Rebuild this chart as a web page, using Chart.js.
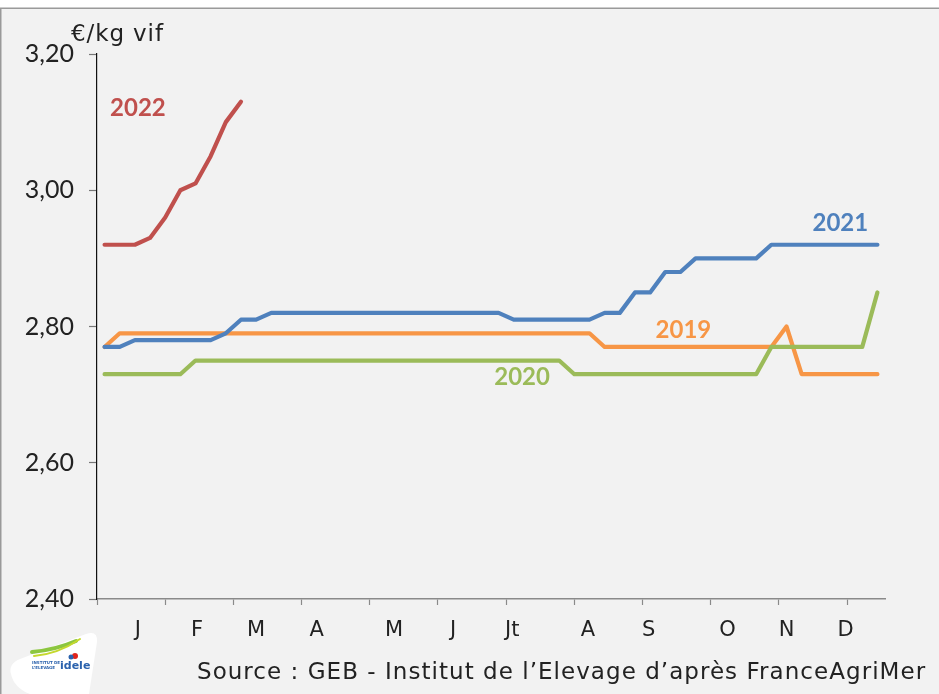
<!DOCTYPE html>
<html><head><meta charset="utf-8">
<script src="https://cdn.jsdelivr.net/npm/chart.js@4.4.1/dist/chart.umd.min.js"></script>
<style>html,body{margin:0;padding:0;background:#fff}#c{display:block}</style>
</head><body>
<canvas id="c" width="939" height="694"></canvas>
<script>
// prix hebdo (€/kg vif), 52 semaines
var s2019=[2.77,2.79,2.79,2.79,2.79,2.79,2.79,2.79,2.79,2.79,2.79,2.79,2.79,2.79,2.79,2.79,2.79,2.79,2.79,2.79,2.79,2.79,2.79,2.79,2.79,2.79,2.79,2.79,2.79,2.79,2.79,2.79,2.79,2.77,2.77,2.77,2.77,2.77,2.77,2.77,2.77,2.77,2.77,2.77,2.77,2.80,2.73,2.73,2.73,2.73,2.73,2.73];
var s2020=[2.73,2.73,2.73,2.73,2.73,2.73,2.75,2.75,2.75,2.75,2.75,2.75,2.75,2.75,2.75,2.75,2.75,2.75,2.75,2.75,2.75,2.75,2.75,2.75,2.75,2.75,2.75,2.75,2.75,2.75,2.75,2.73,2.73,2.73,2.73,2.73,2.73,2.73,2.73,2.73,2.73,2.73,2.73,2.73,2.77,2.77,2.77,2.77,2.77,2.77,2.77,2.85];
var s2021=[2.77,2.77,2.78,2.78,2.78,2.78,2.78,2.78,2.79,2.81,2.81,2.82,2.82,2.82,2.82,2.82,2.82,2.82,2.82,2.82,2.82,2.82,2.82,2.82,2.82,2.82,2.82,2.81,2.81,2.81,2.81,2.81,2.81,2.82,2.82,2.85,2.85,2.88,2.88,2.90,2.90,2.90,2.90,2.90,2.92,2.92,2.92,2.92,2.92,2.92,2.92,2.92];
var s2022=[2.92,2.92,2.92,2.93,2.96,3.00,3.01,3.05,3.10,3.13];

// axe des mois (en semaines)
var monthNames=['J','F','M','A','M','J','Jt','A','S','O','N','D'];
var monthPos=[2.7,6.6,10.5,14.5,19.6,23.5,27.4,32.4,36.4,41.6,45.5,49.4];
var tickMarks=[0,4.5,9,13.5,18,22.5,27,31.5,36,40.5,45,49.5];

var years=[
 {text:'2022',x:2.7,y:3.12,color:'#c0504d'},
 {text:'2021',x:49.05,y:2.951,color:'#4f81bd'},
 {text:'2019',x:38.7,y:2.795,color:'#f79646'},
 {text:'2020',x:28.05,y:2.726,color:'#9bbb59'}
];

function pts(arr){return arr.map(function(v,i){return {x:i+0.5,y:v};});}
function ds(label,arr,color){
 return {label:label,data:pts(arr),borderColor:color,backgroundColor:color,borderWidth:4.2,pointRadius:0,tension:0,
  borderCapStyle:'round',borderJoinStyle:'round',fill:false};
}

// texte étiré à une largeur donnée (police d'origine plus large)
function spacedText(ctx,str,right,y,width){
 ctx.letterSpacing='0px';
 var w=ctx.measureText(str).width, sp=(width-w)/(str.length-1);
 ctx.letterSpacing=sp.toFixed(2)+'px';
 ctx.textAlign='left';
 ctx.fillText(str,right-width,y);
 ctx.letterSpacing='0px';
}

var bgPlugin={id:'bg',beforeDraw:function(c){
 var ctx=c.ctx;ctx.save();
 ctx.fillStyle='#fff';ctx.fillRect(0,0,939,694);
 ctx.fillStyle='#f2f2f2';ctx.fillRect(1,8,938,686);
 ctx.strokeStyle='#9a9a9a';ctx.lineWidth=1.5;
 ctx.beginPath();ctx.moveTo(0,8.25);ctx.lineTo(939,8.25);ctx.moveTo(0.75,8);ctx.lineTo(0.75,694);ctx.stroke();
 ctx.restore();
}};

var textPlugin={id:'txt',afterDatasetsDraw:function(c){
 var ctx=c.ctx,xs=c.scales.x,ys=c.scales.y;ctx.save();
 ctx.font='bold 24px Lato';ctx.textAlign='center';ctx.textBaseline='middle';
 years.forEach(function(l){ctx.fillStyle=l.color;ctx.fillText(l.text,xs.getPixelForValue(l.x),ys.getPixelForValue(l.y));});
 ctx.restore();
},afterDraw:function(c){
 var ctx=c.ctx;ctx.save();
 ctx.fillStyle='#222';ctx.textBaseline='middle';
 ctx.font='23px "DejaVu Sans"';spacedText(ctx,'€/kg vif',163,35,92);
 ctx.font='23px "DejaVu Sans"';
 spacedText(ctx,'Source : GEB - Institut de l\u2019Elevage d\u2019après FranceAgriMer',925,673,728);
 // logo idele
 ctx.fillStyle='#fff';ctx.beginPath();
 ctx.moveTo(11,674);ctx.quadraticCurveTo(8,664,20,659);ctx.lineTo(86,634);ctx.quadraticCurveTo(98,630,97,642);
 ctx.lineTo(89,694);ctx.lineTo(30,694);ctx.quadraticCurveTo(14,688,11,674);ctx.closePath();ctx.fill();
 ctx.lineCap='round';
 ctx.strokeStyle='#8cc63f';ctx.lineWidth=4;ctx.beginPath();ctx.moveTo(32,652);ctx.quadraticCurveTo(55,650,76,641);ctx.stroke();
 ctx.strokeStyle='#c5d82e';ctx.lineWidth=2;ctx.beginPath();ctx.moveTo(34,656);ctx.quadraticCurveTo(58,654,80,639);ctx.stroke();
 ctx.fillStyle='#e2231a';ctx.beginPath();ctx.arc(75,656,3,0,Math.PI*2);ctx.fill();
 ctx.fillStyle='#2b62ad';ctx.beginPath();ctx.arc(71,657,2.5,0,Math.PI*2);ctx.fill();
 ctx.font='bold 11px "DejaVu Sans"';ctx.textAlign='left';ctx.fillText('idele',60,666);
 ctx.font='bold 4px "DejaVu Sans"';ctx.fillText('INSTITUT DE',32,663);ctx.fillText('L\u2019ELEVAGE',32,668);
 ctx.restore();
}};

new Chart(document.getElementById('c'),{
 type:'line',
 data:{datasets:[ds('2022',s2022,'#c0504d'),ds('2021',s2021,'#4f81bd'),ds('2020',s2020,'#9bbb59'),ds('2019',s2019,'#f79646')]},
 options:{responsive:false,animation:false,devicePixelRatio:1,
  layout:{padding:{top:54,right:54,left:0,bottom:0}},
  plugins:{legend:{display:false},tooltip:{enabled:false}},
  scales:{
   x:{type:'linear',min:0,max:52,
    afterBuildTicks:function(s){
     var t=tickMarks.map(function(v){return {value:v,mark:true,lbl:''};});
     monthPos.forEach(function(v,i){t.push({value:v,mark:false,lbl:monthNames[i]});});
     t.sort(function(a,b){return a.value-b.value;});
     s.ticks=t;
    },
    afterFit:function(s){s.height=95;},
    border:{color:'#8a8a8a',width:1.5},
    grid:{drawOnChartArea:false,tickLength:6,tickWidth:1.2,
     tickColor:function(ctx){return ctx.tick&&ctx.tick.mark?'#8a8a8a':'rgba(0,0,0,0)';}},
    ticks:{autoSkip:false,maxRotation:0,padding:13,color:'#222',font:{family:'DejaVu Sans',size:21},
     callback:function(v,i,t){return t[i].lbl;}}
   },
   y:{min:2.4,max:3.2,
    afterFit:function(s){s.width=97;},
    border:{color:'#111',width:1.2},
    grid:{drawOnChartArea:false,tickLength:8,tickColor:'#777',tickWidth:1.2},
    ticks:{stepSize:0.2,padding:15,color:'#222',font:{family:'Lato',size:25},
     callback:function(v){return v.toFixed(2).replace('.',',');}}
   }
  }
 },
 plugins:[bgPlugin,textPlugin]
});
</script>
</body></html>
